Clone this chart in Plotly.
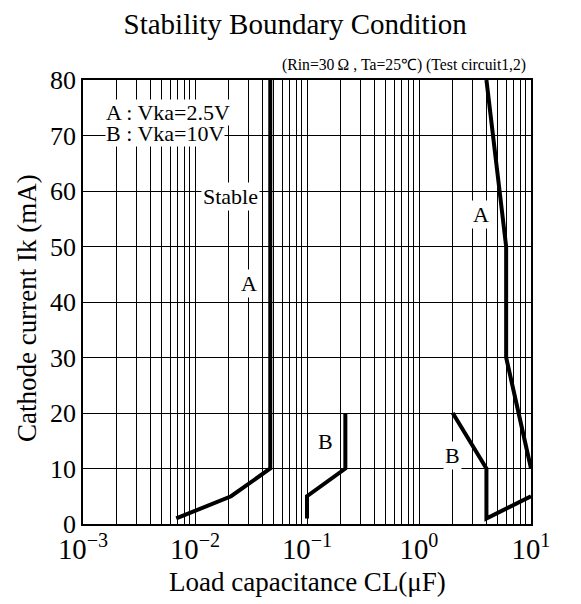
import numpy as np
import plotly.graph_objects as go

# Boundary curves (load capacitance in uF, cathode current in mA)
a_left_cl = [0.0068, 0.021, 0.047, 0.047]
a_left_ik = [1, 5, 10, 80]
a_right_cl = [4, 6, 6, 10]
a_right_ik = [80, 50, 30, 10]
b_left_cl = [0.1, 0.1, 0.22, 0.22]
b_left_ik = [1, 5, 10, 20]
b_right_cl = [2, 4, 4, 10]
b_right_ik = [20, 10, 1, 5]

FONT = "Liberation Serif, Times New Roman, serif"

fig = go.Figure()
for xs, ys in [(a_left_cl, a_left_ik), (a_right_cl, a_right_ik),
               (b_left_cl, b_left_ik), (b_right_cl, b_right_ik)]:
    fig.add_trace(go.Scatter(x=xs, y=ys, mode="lines",
                             line=dict(color="black", width=4),
                             cliponaxis=False, showlegend=False,
                             hoverinfo="skip"))

GRID = "#000000"
fig.update_layout(
    width=581, height=604,
    margin=dict(l=83, r=50, t=80, b=80),
    paper_bgcolor="white", plot_bgcolor="white",
    font=dict(family=FONT, color="black"),
    title=dict(text="Stability Boundary Condition", font=dict(size=29, family=FONT, color="black"),
               x=0.508, xref="container", xanchor="center",
               y=1 - 24 / 604, yref="container", yanchor="middle"),
    xaxis=dict(type="log", range=[-3, 1], dtick=1, exponentformat="power",
               labelalias={"1": "10<sup>0</sup>", "10": "10<sup>1</sup>"},
               showgrid=True, gridcolor=GRID, gridwidth=1.2,
               minor=dict(dtick="D1", showgrid=True, gridcolor=GRID, gridwidth=1.2, ticks=""),
               showline=True, mirror=True, linecolor="black", linewidth=1.5,
               ticks="", tickfont=dict(size=23, family=FONT, color="black"),
               zeroline=False),
    yaxis=dict(range=[0, 80], dtick=10,
               showgrid=True, gridcolor=GRID, gridwidth=1.2,
               showline=True, mirror=True, linecolor="black", linewidth=1.5,
               ticks="", tickfont=dict(size=26, family=FONT, color="black"),
               zeroline=False),
)

ann_font = dict(size=22, family=FONT, color="black")
labels = [
    ("Stable", np.log10(0.0208), 59.1),
    ("Stable", np.log10(14.5), 60.5),
    ("A", np.log10(0.0304), 43.3),
    ("A", np.log10(3.6), 55.7),
    ("B", np.log10(0.145), 14.9),
    ("B", np.log10(1.99), 12.4),
]
for txt, lx, ly in labels:
    fig.add_annotation(text=txt, x=lx, y=ly, xref="x", yref="y",
                       showarrow=False, bgcolor="white", borderpad=1,
                       font=ann_font, xanchor="center", yanchor="middle")

# Legend-like texts
fig.add_annotation(text="A : Vka=2.5V", x=0.049, y=0.9257, xref="paper", yref="paper",
                   showarrow=False, bgcolor="white", borderpad=0, font=ann_font,
                   xanchor="left", yanchor="middle")
fig.add_annotation(text="B : Vka=10V", x=0.049, y=0.8784, xref="paper", yref="paper",
                   showarrow=False, bgcolor="white", borderpad=0, font=ann_font,
                   xanchor="left", yanchor="middle")

# Conditions note
fig.add_annotation(text="(Rin=30\u2009\u03a9 , Ta=25\u2103) (Test circuit1,2)", x=0.993, y=1.034,
                   xref="paper", yref="paper", showarrow=False,
                   font=dict(size=15.7, family=FONT, color="black"),
                   xanchor="right", yanchor="middle")

# Axis titles
fig.add_annotation(text="Load capacitance CL(\u03bcF)", x=0.5, y=(524 - 582) / 444,
                   xref="paper", yref="paper", showarrow=False,
                   font=dict(size=27, family=FONT, color="black"),
                   xanchor="center", yanchor="middle")
fig.add_annotation(text="Cathode current Ik (mA)", x=(27 - 83) / 448, y=(524 - 308) / 444,
                   xref="paper", yref="paper", showarrow=False, textangle=-90,
                   font=dict(size=27, family=FONT, color="black"),
                   xanchor="center", yanchor="middle")

fig.write_html("out.html", config={"displayModeBar": False},
               post_script="document.body.style.margin='0px';")
